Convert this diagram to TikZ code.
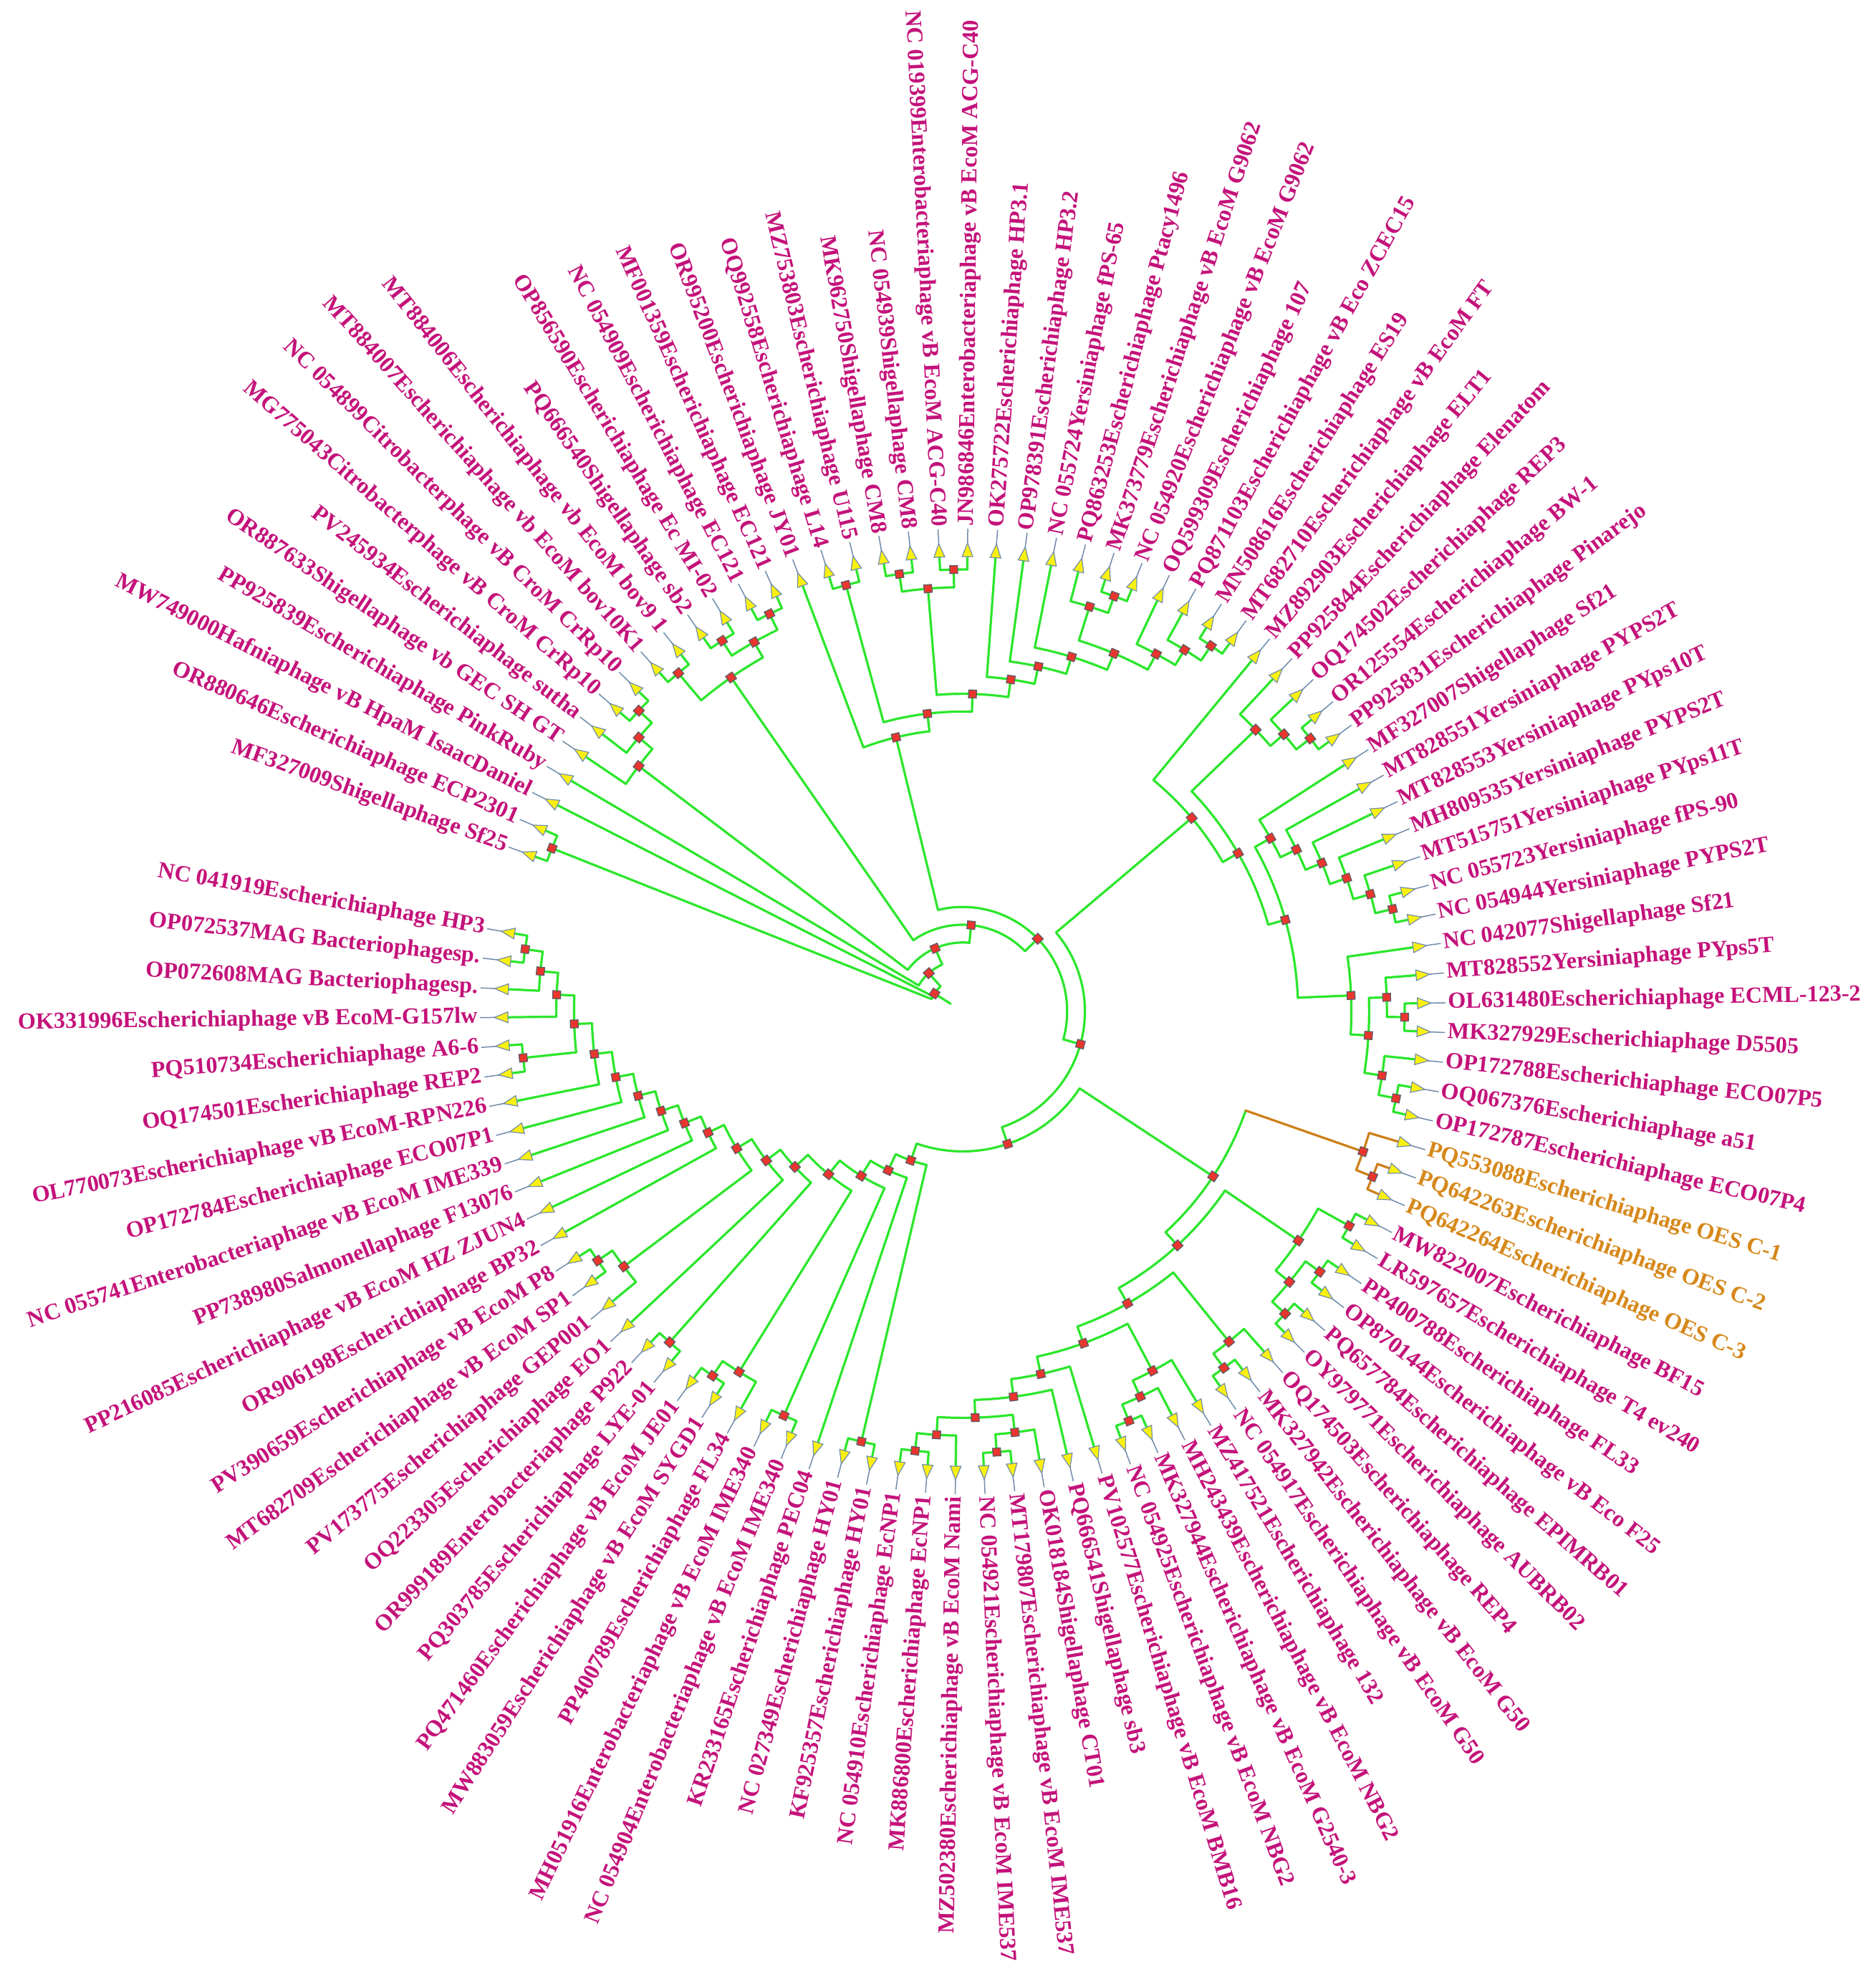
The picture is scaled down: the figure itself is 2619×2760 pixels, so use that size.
\documentclass[tikz,border=0pt]{standalone}
\usepackage{fontspec}
\setmainfont{Liberation Serif}
\definecolor{brgreen}{RGB}{44,230,44}
\definecolor{brorange}{RGB}{205,128,26}
\definecolor{labmag}{RGB}{196,18,122}
\definecolor{laborange}{RGB}{214,136,26}
\definecolor{tipfill}{RGB}{250,240,16}
\definecolor{tipedge}{RGB}{112,140,172}
\definecolor{nodered}{RGB}{232,54,46}
\definecolor{sqedge}{RGB}{90,90,100}
\tikzset{
  br/.style={line width=0.32mm,line cap=round,line join=round},
  lab/.style={font=\fontsize{9.15}{11}\selectfont\bfseries,inner sep=0pt}
}
\newcommand\defleaf[1]{%
  \pgfmathsetmacro\tzL{160.1-(#1-1)*3.535}%
  \expandafter\xdef\csname A@l#1\endcsname{\tzL}%
  \expandafter\xdef\csname R@l#1\endcsname{635}%
  \expandafter\xdef\csname C@l#1\endcsname{brgreen}}
\gdef\sqlist{}
\newcommand\nodesq[2]{\begin{scope}[rotate=#1]
  \filldraw[fill=nodered,draw=sqedge,line width=0.12mm] (#2-5.5,-5.5)--(#2+5.5,-5.5)--(#2+5.5,5.5)--(#2-5.5,5.5)--cycle;
\end{scope}}
\newcommand\trnode[4]{%
  \edef\tzA{\csname A@#2\endcsname}\edef\tzB{\csname A@#3\endcsname}%
  \edef\tzRA{\csname R@#2\endcsname}\edef\tzRB{\csname R@#3\endcsname}%
  \edef\tzCA{\csname C@#2\endcsname}\edef\tzCB{\csname C@#3\endcsname}%
  \pgfmathsetmacro\tzN{(\tzA+\tzB)/2}%
  \pgfmathsetmacro\tzRN{641.8-24.8*#4}%
  \expandafter\xdef\csname A@#1\endcsname{\tzN}%
  \expandafter\xdef\csname R@#1\endcsname{\tzRN}%
  \ifcsname C@#1\endcsname\else\expandafter\xdef\csname C@#1\endcsname{brgreen}\fi
  \edef\tzCN{\csname C@#1\endcsname}%
  \draw[br,draw=\tzCN] (\tzA:\tzRN) arc[start angle=\tzA,end angle=\tzB,radius=\tzRN*0.1mm];
  \draw[br,draw=\tzCA] (\tzA:\tzRN) -- (\tzA:\tzRA);
  \draw[br,draw=\tzCB] (\tzB:\tzRN) -- (\tzB:\tzRB);
  \xdef\sqlist{\unexpanded\expandafter{\sqlist}\noexpand\nodesq{\tzN}{\tzRN}}%
}
\newcommand\leaflab[2]{%
  \edef\tzA{\csname A@l#1\endcsname}%
  \def\tzT{labmag}%
  \ifnum#1>50 \ifnum#1<54 \def\tzT{laborange}\fi\fi
  \begin{scope}[rotate=\tzA]
    \draw[tipedge,line width=0.15mm] (652,0)--(674,0);
    \filldraw[fill=tipfill,draw=tipedge,line width=0.12mm] (635,-7.5)--(654,0)--(635,7.5)--cycle;
  \end{scope}
  \ifdim\tzA pt>-90pt
    \ifdim\tzA pt<90pt
      \node (lab#1) [lab,text=\tzT,anchor=west,rotate=\tzA] at (\tzA:677) {#2};
    \else
      \node (lab#1) [lab,text=\tzT,anchor=east,rotate=\tzA+180] at (\tzA:677) {#2};
    \fi
  \else
    \node (lab#1) [lab,text=\tzT,anchor=east,rotate=\tzA+180] at (\tzA:677) {#2};
  \fi}
\begin{document}
\begin{tikzpicture}[x=0.1mm,y=0.1mm]
\useasboundingbox[fill=white] (-1344,-1348) rectangle (1275,1412);
\foreach \i in {1,...,100}{\defleaf{\i}}
\expandafter\xdef\csname C@l51\endcsname{brorange}
\expandafter\xdef\csname C@l52\endcsname{brorange}
\expandafter\xdef\csname C@l53\endcsname{brorange}
\expandafter\xdef\csname C@o5253\endcsname{brorange}
\expandafter\xdef\csname C@OR\endcsname{brorange}
% upper left
\trnode{n12}{l1}{l2}{1}
\trnode{a78}{l7}{l8}{1}
\trnode{a678}{l6}{a78}{2}
\trnode{a5}{l5}{a678}{3}
\trnode{b910}{l9}{l10}{1}
\trnode{b1112}{l11}{l12}{1}
\trnode{b1314}{l13}{l14}{1}
\trnode{b1114}{b1112}{b1314}{2}
\trnode{bB}{b910}{b1114}{3}
% top
\trnode{c1617}{l16}{l17}{1}
\trnode{g1819}{l18}{l19}{1}
\trnode{g2021}{l20}{l21}{1}
\trnode{gG}{g1819}{g2021}{2}
\trnode{q3031}{l30}{l31}{1}
\trnode{Q2}{l29}{q3031}{2}
\trnode{Q3}{l28}{Q2}{3}
\trnode{q2627}{l26}{l27}{1}
\trnode{q25}{l25}{q2627}{2}
\trnode{Q4}{q25}{Q3}{4}
\trnode{Q5}{l24}{Q4}{5}
\trnode{Q6}{l23}{Q5}{6}
\trnode{Q7}{l22}{Q6}{7}
\trnode{P8}{gG}{Q7}{8}
\trnode{P9}{c1617}{P8}{9}
\trnode{P10}{l15}{P9}{10}
% upper right
\trnode{u3536}{l35}{l36}{1}
\trnode{u34}{l34}{u3536}{2}
\trnode{URa}{l33}{u34}{3}
\trnode{m4243}{l42}{l43}{1}
\trnode{m41}{l41}{m4243}{2}
\trnode{m40}{l40}{m41}{3}
\trnode{m39}{l39}{m40}{4}
\trnode{m38}{l38}{m39}{5}
\trnode{L37}{l37}{m38}{6}
\trnode{v4647}{l46}{l47}{1}
\trnode{v45}{l45}{v4647}{2}
\trnode{v4950}{l49}{l50}{1}
\trnode{v48}{l48}{v4950}{2}
\trnode{U3}{v45}{v48}{3}
\trnode{U4}{l44}{U3}{4}
\trnode{U7}{L37}{U4}{7}
\trnode{U8}{URa}{U7}{8}
\trnode{UR}{l32}{U8}{9}
% lower right
\trnode{o5253}{l52}{l53}{1}
\trnode{OR}{l51}{o5253}{2}
\trnode{w5455}{l54}{l55}{1}
\trnode{w5657}{l56}{l57}{1}
\trnode{w5859}{l58}{l59}{1}
\trnode{w5659}{w5657}{w5859}{2}
\trnode{W}{w5455}{w5659}{3}
\trnode{z6162}{l61}{l62}{1}
\trnode{z60}{l60}{z6162}{2}
\trnode{s6566}{l65}{l66}{1}
\trnode{s64}{l64}{s6566}{2}
\trnode{Z2a}{l63}{s64}{3}
\trnode{t7071}{l70}{l71}{1}
\trnode{t69}{l69}{t7071}{2}
\trnode{t7374}{l73}{l74}{1}
\trnode{t72}{l72}{t7374}{2}
\trnode{t6974}{t69}{t72}{3}
\trnode{t68}{l68}{t6974}{4}
\trnode{Z2b}{l67}{t68}{5}
\trnode{Z2}{Z2a}{Z2b}{6}
\trnode{Z}{z60}{Z2}{7}
\trnode{Y}{W}{Z}{8}
\trnode{LR}{OR}{Y}{9}
% lower left and left
\trnode{A1}{l99}{l100}{1}
\trnode{A2}{l98}{A1}{2}
\trnode{A3}{l97}{A2}{3}
\trnode{k9596}{l95}{l96}{1}
\trnode{A4}{k9596}{A3}{4}
\trnode{A5}{l94}{A4}{5}
\trnode{A6}{l93}{A5}{6}
\trnode{A7}{l92}{A6}{7}
\trnode{A8}{l91}{A7}{8}
\trnode{A9}{l90}{A8}{9}
\trnode{A10}{l89}{A9}{10}
\trnode{k8788}{l87}{l88}{1}
\trnode{k86}{l86}{k8788}{2}
\trnode{L7n}{k86}{A10}{11}
\trnode{L6n}{l85}{L7n}{12}
\trnode{k8384}{l83}{l84}{1}
\trnode{L5n}{k8384}{L6n}{13}
\trnode{k8182}{l81}{l82}{1}
\trnode{k80}{l80}{k8182}{2}
\trnode{L4n}{k80}{L5n}{14}
\trnode{k7879}{l78}{l79}{1}
\trnode{L3n}{k7879}{L4n}{15}
\trnode{L2n}{l77}{L3n}{16}
\trnode{k7576}{l75}{l76}{1}
\trnode{L1n}{k7576}{L2n}{17}
% backbone
\trnode{Ng}{L1n}{LR}{18}
\trnode{Nf}{UR}{Ng}{19}
\trnode{Ne}{P10}{Nf}{20}
\trnode{Nd}{bB}{Ne}{21}
\trnode{Nc}{a5}{Nd}{22}
\trnode{Nb}{l4}{Nc}{23}
% root (three children)
\edef\tzA{\csname A@n12\endcsname}\edef\tzB{\csname A@Nb\endcsname}\edef\tzC{\csname A@l3\endcsname}
\edef\tzRB{\csname R@Nb\endcsname}
\pgfmathsetmacro\tzN{(\tzA+\tzB+\tzC)/3}
\draw[br,draw=brgreen] (\tzA:46.6) arc[start angle=\tzA,end angle=\tzB,radius=4.66mm];
\draw[br,draw=brgreen] (\tzA:46.6) -- (\tzA:617);
\draw[br,draw=brgreen] (\tzC:46.6) -- (\tzC:635);
\draw[br,draw=brgreen] (\tzB:46.6) -- (\tzB:\tzRB);
\draw[br,draw=brgreen] (\tzN:46.6) -- (\tzN:20);
\xdef\sqlist{\unexpanded\expandafter{\sqlist}\noexpand\nodesq{\tzN}{46.6}}
\sqlist
% leaves
\leaflab{1}{MF327009Shigellaphage Sf25}
\leaflab{2}{OR880646Escherichiaphage ECP2301}
\leaflab{3}{MW749000Hafniaphage vB HpaM IsaacDaniel}
\leaflab{4}{PP925839Escherichiaphage PinkRuby}
\leaflab{5}{OR887633Shigellaphage vb GEC SH GT}
\leaflab{6}{PV245934Escherichiaphage sutha}
\leaflab{7}{MG775043Citrobacterphage vB CroM CrRp10}
\leaflab{8}{NC 054899Citrobacterphage vB CroM CrRp10}
\leaflab{9}{MT884007Escherichiaphage vb EcoM bov10K1}
\leaflab{10}{MT884006Escherichiaphage vb EcoM bov9 1}
\leaflab{11}{PQ666540Shigellaphage sb2}
\leaflab{12}{OP856590Escherichiaphage Ec MI-02}
\leaflab{13}{NC 054909Escherichiaphage EC121}
\leaflab{14}{MF001359Escherichiaphage EC121}
\leaflab{15}{OR995200Escherichiaphage JY01}
\leaflab{16}{OQ992558Escherichiaphage L14}
\leaflab{17}{MZ753803Escherichiaphage U115}
\leaflab{18}{MK962750Shigellaphage CM8}
\leaflab{19}{NC 054939Shigellaphage CM8}
\leaflab{20}{NC 019399Enterobacteriaphage vB EcoM ACG-C40}
\leaflab{21}{JN986846Enterobacteriaphage vB EcoM ACG-C40}
\leaflab{22}{OK275722Escherichiaphage HP3.1}
\leaflab{23}{OP978391Escherichiaphage HP3.2}
\leaflab{24}{NC 055724Yersiniaphage fPS-65}
\leaflab{25}{PQ863253Escherichiaphage Ptacy1496}
\leaflab{26}{MK373779Escherichiaphage vB EcoM G9062}
\leaflab{27}{NC 054920Escherichiaphage vB EcoM G9062}
\leaflab{28}{OQ599309Escherichiaphage 107}
\leaflab{29}{PQ871103Escherichiaphage vB Eco ZCEC15}
\leaflab{30}{MN508616Escherichiaphage ES19}
\leaflab{31}{MT682710Escherichiaphage vB EcoM FT}
\leaflab{32}{MZ892903Escherichiaphage ELT1}
\leaflab{33}{PP925844Escherichiaphage Elenatom}
\leaflab{34}{OQ174502Escherichiaphage REP3}
\leaflab{35}{OR125554Escherichiaphage BW-1}
\leaflab{36}{PP925831Escherichiaphage Pinarejo}
\leaflab{37}{MF327007Shigellaphage Sf21}
\leaflab{38}{MT828551Yersiniaphage PYPS2T}
\leaflab{39}{MT828553Yersiniaphage PYps10T}
\leaflab{40}{MH809535Yersiniaphage PYPS2T}
\leaflab{41}{MT515751Yersiniaphage PYps11T}
\leaflab{42}{NC 055723Yersiniaphage fPS-90}
\leaflab{43}{NC 054944Yersiniaphage PYPS2T}
\leaflab{44}{NC 042077Shigellaphage Sf21}
\leaflab{45}{MT828552Yersiniaphage PYps5T}
\leaflab{46}{OL631480Escherichiaphage ECML-123-2}
\leaflab{47}{MK327929Escherichiaphage D5505}
\leaflab{48}{OP172788Escherichiaphage ECO07P5}
\leaflab{49}{OQ067376Escherichiaphage a51}
\leaflab{50}{OP172787Escherichiaphage ECO07P4}
\leaflab{51}{PQ553088Escherichiaphage OES C-1}
\leaflab{52}{PQ642263Escherichiaphage OES C-2}
\leaflab{53}{PQ642264Escherichiaphage OES C-3}
\leaflab{54}{MW822007Escherichiaphage BF15}
\leaflab{55}{LR597657Escherichiaphage T4 ev240}
\leaflab{56}{PP400788Escherichiaphage FL33}
\leaflab{57}{OP870144Escherichiaphage vB Eco F25}
\leaflab{58}{PQ657784Escherichiaphage EPIMRB01}
\leaflab{59}{OY979771Escherichiaphage AUBRB02}
\leaflab{60}{OQ174503Escherichiaphage REP4}
\leaflab{61}{MK327942Escherichiaphage vB EcoM G50}
\leaflab{62}{NC 054917Escherichiaphage vB EcoM G50}
\leaflab{63}{MZ417521Escherichiaphage 132}
\leaflab{64}{MH243439Escherichiaphage vB EcoM NBG2}
\leaflab{65}{MK327944Escherichiaphage vB EcoM G2540-3}
\leaflab{66}{NC 054925Escherichiaphage vB EcoM NBG2}
\leaflab{67}{PV102577Escherichiaphage vB EcoM BMB16}
\leaflab{68}{PQ666541Shigellaphage sb3}
\leaflab{69}{OK018184Shigellaphage CT01}
\leaflab{70}{MT179807Escherichiaphage vB EcoM IME537}
\leaflab{71}{NC 054921Escherichiaphage vB EcoM IME537}
\leaflab{72}{MZ502380Escherichiaphage vB EcoM Nami}
\leaflab{73}{MK886800Escherichiaphage EcNP1}
\leaflab{74}{NC 054910Escherichiaphage EcNP1}
\leaflab{75}{KF925357Escherichiaphage HY01}
\leaflab{76}{NC 027349Escherichiaphage HY01}
\leaflab{77}{KR233165Escherichiaphage PEC04}
\leaflab{78}{NC 054904Enterobacteriaphage vB EcoM IME340}
\leaflab{79}{MH051916Enterobacteriaphage vB EcoM IME340}
\leaflab{80}{PP400789Escherichiaphage FL34}
\leaflab{81}{MW883059Escherichiaphage vB EcoM SYGD1}
\leaflab{82}{PQ471460Escherichiaphage vB EcoM JE01}
\leaflab{83}{PQ303785Escherichiaphage LYE-01}
\leaflab{84}{OR999189Enterobacteriaphage P922}
\leaflab{85}{OQ223305Escherichiaphage EO1}
\leaflab{86}{PV173775Escherichiaphage GEP001}
\leaflab{87}{MT682709Escherichiaphage vB EcoM SP1}
\leaflab{88}{PV390659Escherichiaphage vB EcoM P8}
\leaflab{89}{OR906198Escherichiaphage BP32}
\leaflab{90}{PP216085Escherichiaphage vB EcoM HZ ZJUN4}
\leaflab{91}{PP738980Salmonellaphage F13076}
\leaflab{92}{NC 055741Enterobacteriaphage vB EcoM IME339}
\leaflab{93}{OP172784Escherichiaphage ECO07P1}
\leaflab{94}{OL770073Escherichiaphage vB EcoM-RPN226}
\leaflab{95}{OQ174501Escherichiaphage REP2}
\leaflab{96}{PQ510734Escherichiaphage A6-6}
\leaflab{97}{OK331996Escherichiaphage vB EcoM-G157lw}
\leaflab{98}{OP072608MAG Bacteriophagesp.}
\leaflab{99}{OP072537MAG Bacteriophagesp.}
\leaflab{100}{NC 041919Escherichiaphage HP3}
\end{tikzpicture}
\end{document}
